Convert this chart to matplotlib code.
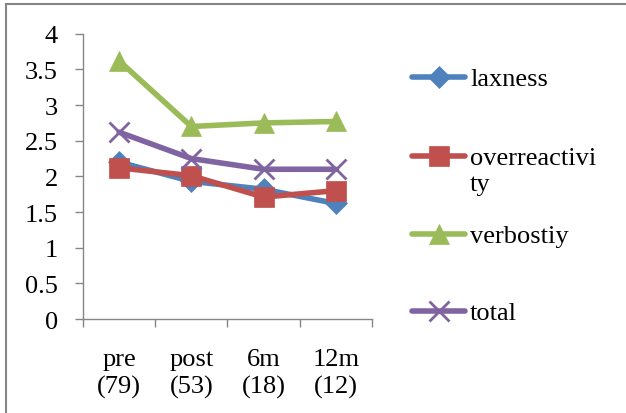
import matplotlib
matplotlib.use("Agg")
import matplotlib.pyplot as plt
from matplotlib.lines import Line2D
from matplotlib.patches import Rectangle

categories = ["pre\n(79)", "post\n(53)", "6m\n(18)", "12m\n(12)"]
series_names = ["laxness", "overreactivi\nty", "verbostiy", "total"]
laxness = [2.2, 1.93, 1.82, 1.62]
overreactivity = [2.12, 2.01, 1.71, 1.8]
verbostiy = [3.62, 2.7, 2.75, 2.77]
total = [2.62, 2.25, 2.1, 2.1]

colors = ["#4F81BD", "#C0504D", "#9BBB59", "#8064A2"]
markers = ["D", "s", "^", "x"]
msizes = [11, 14, 14, 14]

plt.rcParams["font.family"] = ["Liberation Serif"]
FS = 19
LW = 4.0

fig = plt.figure(figsize=(6.26, 4.14), dpi=100)
ax = fig.add_axes([0.1326, 0.227, 0.4614, 0.689])

xs = list(range(len(categories)))
data = [laxness, overreactivity, verbostiy, total]
for vals, c, m, ms in zip(data, colors, markers, msizes):
    ax.plot(xs, vals, color=c, lw=LW, marker=m, markersize=ms,
            markeredgewidth=2 if m == "x" else 0.5, markeredgecolor=c,
            solid_capstyle="round", solid_joinstyle="round")

ax.set_xlim(-0.5, 3.5)
ax.set_ylim(0, 4)
ax.set_yticks([0, 0.5, 1, 1.5, 2, 2.5, 3, 3.5, 4])
ax.set_yticklabels(["0", "0.5", "1", "1.5", "2", "2.5", "3", "3.5", "4"])
ax.set_xticks(xs)
ax.set_xticklabels(categories, linespacing=1.25)
ax.set_xticks([-0.5, 0.5, 1.5, 2.5, 3.5], minor=True)
ax.tick_params(axis="x", which="major", length=0, pad=21, labelsize=FS)
ax.tick_params(axis="x", which="minor", length=6, width=1, color="#868686",
               direction="out")
ax.tick_params(axis="y", length=6, width=1, color="#868686", labelsize=FS,
               pad=12)
for s in ["top", "right"]:
    ax.spines[s].set_visible(False)
for s in ["left", "bottom"]:
    ax.spines[s].set_color("#868686")
    ax.spines[s].set_linewidth(1)

# legend drawn manually to mimic the spreadsheet layout
W, H = 626, 414
leg_y = [78, 157, 235, 312]
for name, c, m, ms, y in zip(series_names, colors, markers, msizes, leg_y):
    fy = 1 - y / H
    fig.add_artist(Line2D([412 / W, 465 / W], [fy, fy], color=c, lw=LW,
                          solid_capstyle="round"))
    fig.add_artist(Line2D([438.5 / W], [fy], color=c, marker=m, markersize=ms,
                          markeredgewidth=2 if m == "x" else 0.5,
                          markeredgecolor=c))
    for i, part in enumerate(name.split("\n")):
        fig.text(470 / W, 1 - (y + 8 + 26 * i) / H, part, fontsize=FS,
                 va="baseline", ha="left")

fig.add_artist(Rectangle((6 / W, -0.1), 1.2, 1 - 5 / H + 0.1,
                         transform=fig.transFigure, fill=False,
                         edgecolor="#868686", lw=1.5))

fig.savefig("out.png", dpi=100)
